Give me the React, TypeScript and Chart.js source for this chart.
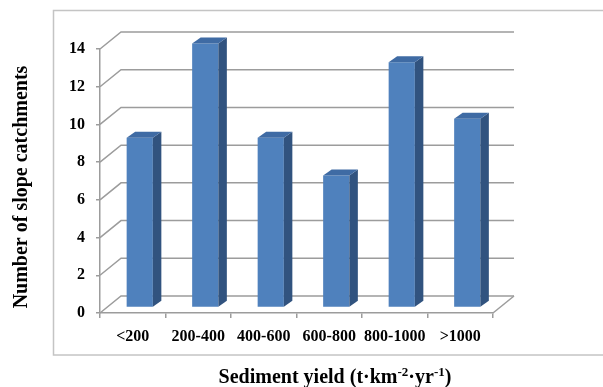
import React, { useEffect, useRef } from 'react';
import { Chart, registerables } from 'chart.js';

Chart.register(...registerables);

// Sediment yield classes and number of slope catchments in each
const categories = ['<200', '200-400', '400-600', '600-800', '800-1000', '>1000'];
const catchmentCounts = [9, 14, 9, 7, 13, 10];
const yTicks = [0, 2, 4, 6, 8, 10, 12, 14];

const FONT = "'Liberation Serif', 'Times New Roman', serif";
const GRID = '#9C9C9C';
const FRONT = '#4F81BD';
const SIDE = '#31537F';
const TOP = '#3F6BA4';

// oblique projection offsets for the pseudo-3D box
const WALL = { dx: 21, dy: -17 };
const BAR_FRONT = { dx: 7, dy: -5.6 };
const BAR_DEPTH = { dx: 8.5, dy: -6 };

const box3d = {
  id: 'box3d',
  beforeDraw(chart: any) {
    const { ctx, chartArea: a, scales } = chart;
    const y = scales.y;
    ctx.save();
    // outer chart frame
    ctx.strokeStyle = '#C4C4C4';
    ctx.lineWidth = 1.5;
    ctx.strokeRect(53.5, 10.5, 700, 344.5);
    // left wall, back wall and floor lines
    ctx.strokeStyle = GRID;
    ctx.lineWidth = 1.5;
    yTicks.forEach((v) => {
      const py = y.getPixelForValue(v);
      ctx.beginPath();
      ctx.moveTo(a.left, py);
      ctx.lineTo(a.left + WALL.dx, py + WALL.dy);
      ctx.lineTo(a.right + WALL.dx, py + WALL.dy);
      ctx.stroke();
    });
    ctx.beginPath();
    ctx.moveTo(a.right, a.bottom);
    ctx.lineTo(a.right + WALL.dx, a.bottom + WALL.dy);
    ctx.stroke();
    ctx.restore();
  },
  beforeDatasetsDraw(chart: any) {
    chart.ctx.save();
    chart.ctx.translate(BAR_FRONT.dx, BAR_FRONT.dy);
  },
  afterDatasetsDraw(chart: any) {
    const ctx = chart.ctx;
    const meta = chart.getDatasetMeta(0);
    meta.data.forEach((bar: any) => {
      const { x, y, width, base } = bar.getProps(['x', 'y', 'width', 'base'], true);
      const l = x - width / 2;
      const r = x + width / 2;
      const { dx, dy } = BAR_DEPTH;
      ctx.fillStyle = SIDE;
      ctx.beginPath();
      ctx.moveTo(r, y);
      ctx.lineTo(r + dx, y + dy);
      ctx.lineTo(r + dx, base + dy);
      ctx.lineTo(r, base);
      ctx.closePath();
      ctx.fill();
      ctx.fillStyle = TOP;
      ctx.beginPath();
      ctx.moveTo(l, y);
      ctx.lineTo(l + dx, y + dy);
      ctx.lineTo(r + dx, y + dy);
      ctx.lineTo(r, y);
      ctx.closePath();
      ctx.fill();
    });
    ctx.restore();
  },
  afterDraw(chart: any) {
    const ctx = chart.ctx;
    ctx.save();
    ctx.fillStyle = '#000';
    // y-axis title
    ctx.save();
    ctx.translate(22, 187);
    ctx.rotate(-Math.PI / 2);
    ctx.font = `bold 20px ${FONT}`;
    ctx.textAlign = 'center';
    ctx.textBaseline = 'middle';
    ctx.fillText('Number of slope catchments', 0, 0);
    ctx.restore();
    // x-axis title with superscripts
    const parts: [string, boolean][] = [
      ['Sediment yield (t\u00B7km', false],
      ['-2', true],
      ['\u00B7yr', false],
      ['-1', true],
      [')', false],
    ];
    const big = `bold 20px ${FONT}`;
    const small = `bold 13px ${FONT}`;
    let total = 0;
    parts.forEach(([t, sup]) => {
      ctx.font = sup ? small : big;
      total += ctx.measureText(t).width;
    });
    let cx = 335 - total / 2;
    const baseY = 383;
    ctx.textAlign = 'left';
    ctx.textBaseline = 'alphabetic';
    parts.forEach(([t, sup]) => {
      ctx.font = sup ? small : big;
      ctx.fillText(t, cx, sup ? baseY - 7 : baseY);
      cx += ctx.measureText(t).width;
    });
    ctx.restore();
  },
};

export default function App() {
  const ref = useRef<HTMLCanvasElement>(null);

  useEffect(() => {
    if (!ref.current) return;
    const tickFont = { family: FONT, size: 16, weight: 'bold' as const };
    const chart = new Chart(ref.current, {
      type: 'bar',
      data: {
        labels: categories,
        datasets: [
          {
            data: catchmentCounts,
            backgroundColor: FRONT,
            borderWidth: 0,
            barPercentage: 0.4,
            categoryPercentage: 1,
            clip: false as any,
          },
        ],
      },
      options: {
        responsive: false,
        devicePixelRatio: 1,
        animation: false,
        layout: { padding: { top: 49, right: 110, left: 0, bottom: 0 } },
        plugins: { legend: { display: false }, tooltip: { enabled: false } },
        scales: {
          x: {
            grid: {
              display: true,
              drawOnChartArea: false,
              drawTicks: true,
              tickLength: 5,
              color: GRID,
              lineWidth: 1.5,
              offset: true,
            },
            border: { display: true, color: GRID, width: 1.5 },
            ticks: { color: '#000', font: tickFont, padding: 9, maxRotation: 0, autoSkip: false },
            afterFit: (s: any) => {
              s.height = 74;
            },
          },
          y: {
            min: 0,
            max: 14,
            grid: {
              drawOnChartArea: false,
              drawTicks: true,
              tickLength: 4,
              color: GRID,
              lineWidth: 1.5,
            },
            border: { display: true, color: GRID, width: 1.5 },
            ticks: { stepSize: 2, color: '#000', font: tickFont, padding: 11 },
            afterFit: (s: any) => {
              s.width = 100;
            },
          },
        },
      },
      plugins: [box3d],
    });
    return () => chart.destroy();
  }, []);

  return (
    <div style={{ position: 'absolute', left: 0, top: 0, width: 603, height: 387, background: '#fff' }}>
      <canvas ref={ref} width={603} height={387} style={{ display: 'block' }} />
    </div>
  );
}
